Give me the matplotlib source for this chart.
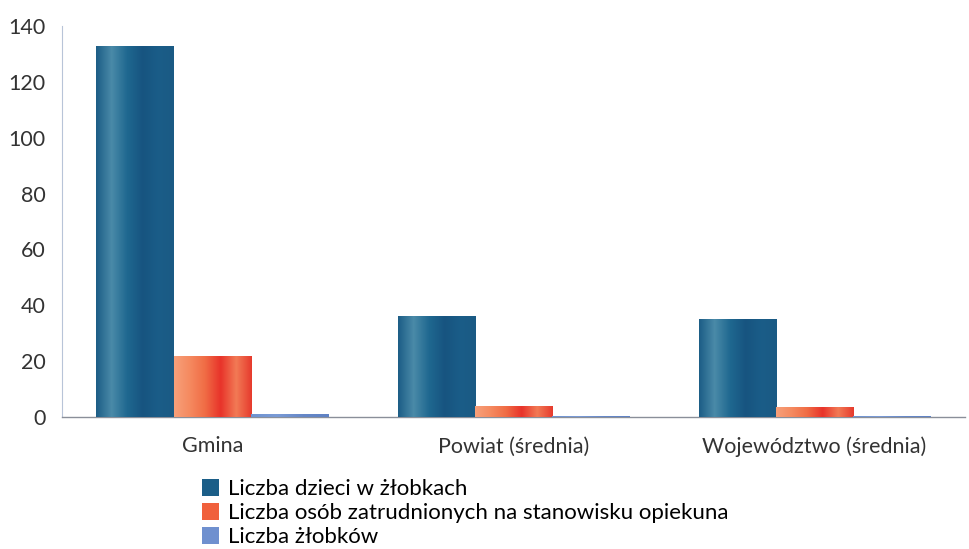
import numpy as np
import matplotlib
matplotlib.use("Agg")
import matplotlib.pyplot as plt
from matplotlib.colors import LinearSegmentedColormap
from matplotlib.patches import Patch

categories = ["Gmina", "Powiat (średnia)", "Województwo (średnia)"]
series_names = ["Liczba dzieci w żłobkach",
                "Liczba osób zatrudnionych na stanowisku opiekuna",
                "Liczba żłobków"]
dzieci = [133, 36, 35]
opiekunowie = [22, 4, 3.5]
zlobki = [1, 0.5, 0.4]
yticks = [0, 20, 40, 60, 80, 100, 120, 140]

plt.rcParams['font.family'] = ['Lato', 'DejaVu Sans']

fig = plt.figure(figsize=(9.69, 5.49), dpi=100)
ax = fig.add_axes([0.064, 0.2404, 0.932, 0.7122])

grads = [
    ["#1c5d86", "#4a8aa8", "#1f6890", "#175480", "#1a5d88", "#1b5a84"],
    ["#f7a07a", "#f58a60", "#f06c45", "#e8332a", "#f27a55", "#e63a2d"],
    ["#6f93d0", "#7a9bd6", "#6688c8", "#5f82c4"],
]
solid = ["#1b5e88", "#f0603c", "#6f90cf"]

x = np.arange(len(categories))
w = 0.257
series = [dzieci, opiekunowie, zlobki]
for i, vals in enumerate(series):
    bars = ax.bar(x + (i - 1) * w, vals, w, color=solid[i], zorder=2)
    cmap = LinearSegmentedColormap.from_list(f"g{i}", grads[i])
    grad = np.linspace(0, 1, 256).reshape(1, -1)
    for b in bars:
        bx, by = b.get_x(), b.get_y()
        bw, bh = b.get_width(), b.get_height()
        im = ax.imshow(grad, cmap=cmap, aspect='auto',
                       extent=[bx, bx + bw, by, by + bh], zorder=3)
        im.set_clip_path(b)

ax.set_xlim(-0.5, 2.5)
ax.set_ylim(0, 140)
ax.set_yticks(yticks)
ax.set_xticks(x)
ax.set_xticklabels(categories)
ax.tick_params(axis='both', length=0, labelcolor="#333333")
ax.tick_params(axis='y', pad=12, labelsize=15.5)
ax.tick_params(axis='x', pad=14, labelsize=15.5)
for s in ["top", "right"]:
    ax.spines[s].set_visible(False)
ax.spines["left"].set_color("#b8c4d8")
ax.spines["left"].set_linewidth(0.8)
ax.spines["bottom"].set_color("#8a8f99")
ax.spines["bottom"].set_linewidth(1.0)

handles = [Patch(facecolor=c, edgecolor='none') for c in solid]
fig.legend(handles, series_names, loc="upper left",
           bbox_to_anchor=(0.208, 0.127), frameon=False, fontsize=16,
           handlelength=0.8, handleheight=0.8, handletextpad=0.4,
           labelspacing=0.17, borderaxespad=0, borderpad=0)

fig.savefig("out.png", dpi=100)
